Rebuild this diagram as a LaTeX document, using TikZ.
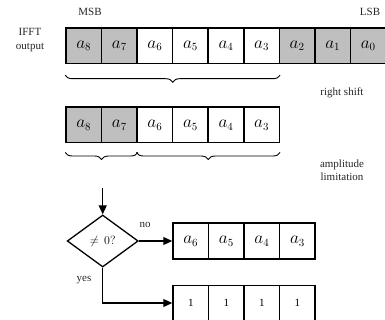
\documentclass[tikz,border=0pt]{standalone}
\usepackage{fontspec}
\setmainfont{Liberation Serif}
\usetikzlibrary{shapes.geometric,arrows.meta,decorations.pathreplacing,calc}

\tikzset{
  cell/.style={draw=black, line width=1.5pt, minimum width=35.56pt, minimum height=35.5pt,
               inner sep=0pt, font=\fontsize{16}{18}\selectfont},
  hicell/.style={cell, fill=black!25},
  onecell/.style={cell, font=\fontsize{11}{13}\selectfont},
  lbl/.style={font=\fontsize{11}{13.5}\selectfont, align=center, text=black!85},
  curly/.style={decorate, decoration={brace, mirror, amplitude=7pt}, line width=0.9pt},
  flow/.style={line width=1.3pt, -{Triangle[length=9pt,width=8pt]}},
  test/.style={diamond, draw, line width=1.3pt, minimum width=71pt, minimum height=52pt,
               inner sep=0pt, font=\fontsize{13}{15}\selectfont}
}

\begin{document}
\begin{tikzpicture}[x=1pt,y=-1pt]
\useasboundingbox (0,0) rectangle (385,320);

% IFFT output word, MSB to LSB
\foreach \i/\b/\s in {1/8/hicell,2/7/hicell,3/6/cell,4/5/cell,5/4/cell,6/3/cell,7/2/hicell,8/1/hicell,9/0/hicell}
  \node[\s] (w\i) at ({66+35.56*(\i-0.5)},45.7) {$a_{\b}$};

\node[lbl] (msb) at (90,12) {MSB};
\node[lbl] (lsb) at (370,12) {LSB};
\node[lbl] (ifft) at (30,40) {IFFT\\output};

% right shift by three bits
\draw[curly] ($(w1.south west)+(0,11)$) -- ($(w6.south east)+(0,11)$);
\node[lbl] (shift) at (342,93) {right shift};

% shifted word
\foreach \i/\b/\s in {1/8/hicell,2/7/hicell,3/6/cell,4/5/cell,5/4/cell,6/3/cell}
  \node[\s] (s\i) at ({66+35.56*(\i-0.5)},125) {$a_{\b}$};

\draw[curly] ($(s1.south west)+(0,9)$) -- ($(s2.south east)+(0,9)$);
\draw[curly] ($(s3.south west)+(0,9)$) -- ($(s6.south east)+(0,9)$);
\node[lbl] (amp) at (342,170) {amplitude\\limitation};

% overflow test on the two upper bits
\coordinate (top) at (102.7,188);
\node[test] (chk) at (102.7,241) {$\neq\,0?$};
\draw[flow] (top) -- (chk.north);

\foreach \i/\b in {1/6,2/5,3/4,4/3}
  \node[cell] (n\i) at ({173+35.56*(\i-0.5)},241) {$a_{\b}$};
\foreach \i in {1,...,4}
  \node[onecell] (y\i) at ({173+35.56*(\i-0.5)},303) {1};

\draw[flow] (chk.east) -- (n1.west);
\draw[flow] (chk.south) |- (y1.west);
\node[lbl] (no) at (145,225) {no};
\node[lbl] (yes) at (84,280) {yes};
\end{tikzpicture}
\end{document}
